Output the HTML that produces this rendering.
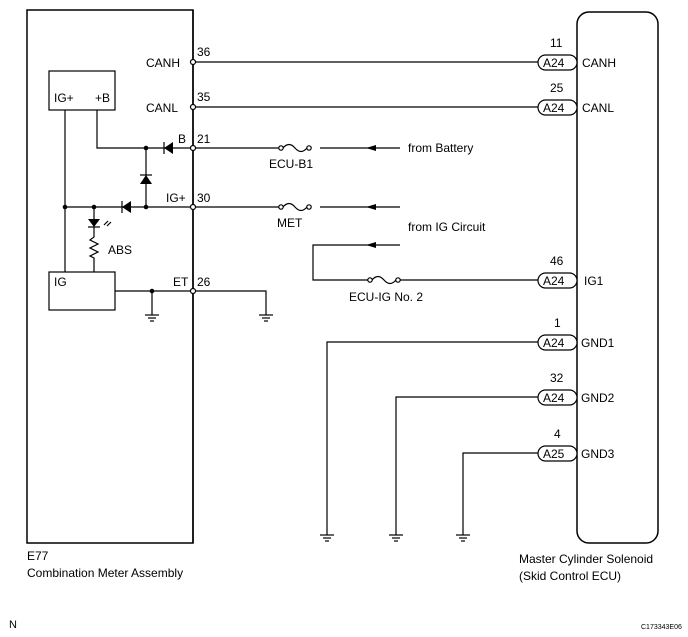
<!DOCTYPE html>
<html><head><meta charset="utf-8"><style>
html,body{margin:0;padding:0;background:#fff}
svg{display:block}
text{font-family:"Liberation Sans",sans-serif;font-size:12px;fill:#000}
.s{font-size:11px}
</style></head><body>
<svg width="688" height="637" viewBox="0 0 688 637" xmlns="http://www.w3.org/2000/svg">
<g stroke="#000" fill="none" stroke-width="1.2">
<rect x="27" y="10" width="166" height="533" stroke-width="1.5"/>
<rect x="577" y="12" width="81" height="531" rx="12" stroke-width="1.5"/>
<rect x="49" y="71" width="66" height="39"/>
<rect x="49" y="272" width="66" height="38"/>
<line x1="193" y1="62" x2="538" y2="62"/>
<line x1="193" y1="107" x2="538" y2="107"/>
<polyline points="97,110 97,148 193,148"/>
<line x1="193" y1="148" x2="280" y2="148"/>
<line x1="320" y1="148" x2="400" y2="148"/>
<line x1="65" y1="110" x2="65" y2="272"/>
<line x1="65" y1="207" x2="193" y2="207"/>
<line x1="193" y1="207" x2="280" y2="207"/>
<line x1="320" y1="207" x2="400" y2="207"/>
<line x1="146" y1="148" x2="146" y2="207"/>
<line x1="94" y1="207" x2="94" y2="234"/>
<polyline points="94,234 94,237 90,240 98,244 90,248 98,252 90,256 94,258 94,272"/>
<path d="M283,148 q6,-7 12,0 t12,0"/><circle cx="281" cy="148" r="2.2" fill="#fff"/><circle cx="309" cy="148" r="2.2" fill="#fff"/>
<path d="M283,207 q6,-7 12,0 t12,0"/><circle cx="281" cy="207" r="2.2" fill="#fff"/><circle cx="309" cy="207" r="2.2" fill="#fff"/>
<polyline points="400,245 313,245 313,280 370,280"/>
<line x1="398" y1="280" x2="538" y2="280"/>
<path d="M372,280 q6,-7 12,0 t12,0"/><circle cx="370" cy="280" r="2.2" fill="#fff"/><circle cx="398" cy="280" r="2.2" fill="#fff"/>
<polyline points="115,291 266,291 266,315"/>
<line x1="152" y1="291" x2="152" y2="315"/>
<polyline points="538,342 327,342 327,535"/>
<polyline points="538,397 396,397 396,535"/>
<polyline points="538,453 463,453 463,535"/>
<line x1="193" y1="10" x2="193" y2="543" stroke-width="1.5"/>
<rect x="538" y="55" width="39" height="15" rx="7.5" fill="#fff"/>
<rect x="538" y="100" width="39" height="15" rx="7.5" fill="#fff"/>
<rect x="538" y="273" width="39" height="15" rx="7.5" fill="#fff"/>
<rect x="538" y="335" width="39" height="15" rx="7.5" fill="#fff"/>
<rect x="538" y="390" width="39" height="15" rx="7.5" fill="#fff"/>
<rect x="538" y="446" width="39" height="15" rx="7.5" fill="#fff"/>
</g>
<g stroke="#000" stroke-width="1.2">
<line x1="145" y1="315" x2="159" y2="315"/><line x1="148" y1="318" x2="156" y2="318"/><line x1="150" y1="321" x2="154" y2="321"/>
<line x1="259" y1="315" x2="273" y2="315"/><line x1="262" y1="318" x2="270" y2="318"/><line x1="264" y1="321" x2="268" y2="321"/>
<line x1="320" y1="535" x2="334" y2="535"/><line x1="323" y1="538" x2="331" y2="538"/><line x1="325" y1="541" x2="329" y2="541"/>
<line x1="389" y1="535" x2="403" y2="535"/><line x1="392" y1="538" x2="400" y2="538"/><line x1="394" y1="541" x2="398" y2="541"/>
<line x1="456" y1="535" x2="470" y2="535"/><line x1="459" y1="538" x2="467" y2="538"/><line x1="461" y1="541" x2="465" y2="541"/>
<line x1="164" y1="142" x2="164" y2="154"/>
<line x1="122" y1="201" x2="122" y2="213"/>
<line x1="140" y1="175" x2="152" y2="175"/>
<line x1="88" y1="227" x2="100" y2="227"/>
<line x1="104" y1="225" x2="108" y2="221"/><line x1="107" y1="226" x2="111" y2="222"/>
</g>
<g fill="#000">
<polygon points="164,148 173,142 173,154"/>
<polygon points="122,207 131,201 131,213"/>
<polygon points="146,175 140,184 152,184"/>
<polygon points="94,227 88,219 100,219"/>
<polygon points="366,148 376,145 376,151"/>
<polygon points="366,207 376,204 376,210"/>
<polygon points="366,245 376,242 376,248"/>
<circle cx="146" cy="148" r="2.3"/><circle cx="146" cy="207" r="2.3"/>
<circle cx="94" cy="207" r="2.3"/><circle cx="65" cy="207" r="2.3"/>
<circle cx="152" cy="291" r="2.3"/>
</g>
<g stroke="#000" stroke-width="1.2" fill="#fff">
<circle cx="193" cy="62" r="2.5"/><circle cx="193" cy="107" r="2.5"/>
<circle cx="193" cy="148" r="2.5"/><circle cx="193" cy="207" r="2.5"/>
<circle cx="193" cy="291" r="2.5"/>
</g>
<text x="146" y="67">CANH</text><text x="197" y="56">36</text>
<text x="146" y="112">CANL</text><text x="197" y="101">35</text>
<text x="178" y="143">B</text><text x="197" y="143">21</text>
<text x="166" y="202">IG+</text><text x="197" y="202">30</text>
<text x="173" y="286">ET</text><text x="197" y="286">26</text>
<text x="54" y="102">IG+</text><text x="95" y="102">+B</text>
<text x="54" y="286">IG</text>
<text x="108" y="254">ABS</text>
<text x="269" y="168">ECU-B1</text>
<text x="277" y="227">MET</text>
<text x="408" y="152">from Battery</text>
<text x="408" y="231">from IG Circuit</text>
<text x="349" y="301">ECU-IG No. 2</text>
<text x="550" y="47">11</text><text x="550" y="92">25</text><text x="550" y="265">46</text>
<text x="554" y="327">1</text><text x="550" y="382">32</text><text x="554" y="438">4</text>
<text x="543" y="67">A24</text><text x="543" y="112">A24</text><text x="543" y="285">A24</text>
<text x="543" y="347">A24</text><text x="543" y="402">A24</text><text x="543" y="458">A25</text>
<text x="582" y="67">CANH</text><text x="582" y="112">CANL</text><text x="584" y="285">IG1</text>
<text x="581" y="347">GND1</text><text x="581" y="402">GND2</text><text x="581" y="458">GND3</text>
<text x="27" y="560">E77</text>
<text x="27" y="577">Combination Meter Assembly</text>
<text x="519" y="563">Master Cylinder Solenoid</text>
<text x="519" y="580">(Skid Control ECU)</text>
<text x="9" y="628" class="s">N</text>
<text x="641" y="629" style="font-size:7px">C173343E06</text>
</svg>
</body></html>
